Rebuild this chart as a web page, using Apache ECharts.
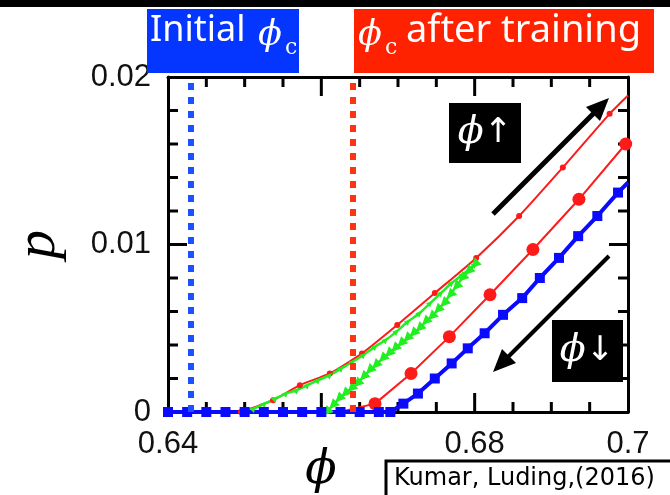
<!DOCTYPE html>
<html>
<head>
<meta charset="utf-8">
<script src="https://cdn.jsdelivr.net/npm/echarts@6/dist/echarts.min.js"></script>
<style>
html,body{margin:0;padding:0;background:#fff}
#main{width:670px;height:495px}
</style>
</head>
<body>
<div id="main"></div>
<script>
// phi ^ : red line, small dots
var redUpPhi = [0.6495, 0.6537, 0.6572, 0.6611, 0.6653, 0.6699, 0.6748, 0.6802, 0.6858, 0.6915, 0.6976, 0.7];
var redUpP   = [0, 0.0007, 0.0016, 0.0023, 0.0035, 0.0052, 0.0071, 0.0092, 0.0117, 0.0146, 0.0178, 0.0189];
// red big circles
var redDotPhi = [0.6624, 0.6670, 0.6717, 0.6767, 0.6820, 0.6876, 0.6936, 0.6997];
var redDotP   = [0, 0.0005, 0.0023, 0.0045, 0.0070, 0.0097, 0.0127, 0.0160];
// blue squares
var bluePhi = [0.64, 0.6425, 0.645, 0.6475, 0.65, 0.6525, 0.655, 0.6575, 0.66, 0.6625, 0.665, 0.6675, 0.669,
               0.6707, 0.6726, 0.6748, 0.677, 0.6791, 0.6813, 0.6837, 0.6862, 0.6885, 0.691, 0.6935, 0.696, 0.6987, 0.7];
var blueP   = [0, 0, 0, 0, 0, 0, 0, 0, 0, 0, 0, 0, 0,
               0.0005, 0.0011, 0.0020, 0.0029, 0.0038, 0.0047, 0.0058, 0.0068, 0.0080, 0.0092, 0.0105, 0.0117, 0.0131, 0.0137];
// green loop, going up
var greenUpPhi = [0.6498, 0.6512, 0.6526, 0.6540, 0.6554, 0.6568, 0.6582, 0.6596, 0.6611, 0.6626, 0.6641,
                  0.6655, 0.6670, 0.6684, 0.6698, 0.6713, 0.6728, 0.6742, 0.6756, 0.6770, 0.6784, 0.6800];
var greenUpP   = [0, 0.0002, 0.0005, 0.0008, 0.0011, 0.0013, 0.0016, 0.0019, 0.0022, 0.0026, 0.0030,
                  0.0034, 0.0039, 0.0043, 0.0048, 0.0054, 0.0059, 0.0065, 0.0071, 0.0077, 0.0082, 0.0088];
// green loop, coming down
var greenDownPhi = [0.6800, 0.6792, 0.6784, 0.6776, 0.6768, 0.6760, 0.6752, 0.6744, 0.6736, 0.6728, 0.6720, 0.6712, 0.6704,
                    0.6696, 0.6688, 0.6680, 0.6671, 0.6663, 0.6655, 0.6647, 0.6639, 0.6631, 0.6623, 0.6615, 0.6607];
var greenDownP   = [0.0088, 0.0084, 0.0080, 0.0075, 0.0070, 0.0065, 0.0061, 0.0057, 0.0054, 0.0050, 0.0047, 0.0044, 0.0041,
                    0.0038, 0.0035, 0.0032, 0.0028, 0.0025, 0.0021, 0.0017, 0.0014, 0.0011, 0.0008, 0.0004, 0];
// phi_c lines
var phiInitial = 0.643;
var phiTrained = 0.6641;
var xLabelValues = [0.64, 0.68, 0.7];
var yLabelValues = [0, 0.01, 0.02];

function pairs(xs, ys){
	var out = [];
	for (var i = 0; i < xs.length; i++) out.push([xs[i], ys[i]]);
	return out;
}
function shown(list, v){
	for (var i = 0; i < list.length; i++) if (Math.abs(list[i] - v) < 1e-6) return true;
	return false;
}

var redUp = pairs(redUpPhi, redUpP);
redUp[redUp.length - 1] = {value: redUp[redUp.length - 1], symbol: 'none'};
var redDot = pairs(redDotPhi, redDotP);
redDot[0] = {value: redDot[0], symbol: 'none'};
var blue = pairs(bluePhi, blueP);
blue[blue.length - 1] = {value: blue[blue.length - 1], symbol: 'none'};

function makeAxis(opts){
	var ax = {
		type: 'value',
		axisLine: {show: true, onZero: false, lineStyle: {color: '#000', width: 3}},
		axisTick: {show: false},
		minorTick: {show: false},
		splitLine: {show: false},
		minorSplitLine: {show: false}
	};
	for (var k in opts) ax[k] = opts[k];
	return ax;
}
var tickLabel = function(list){
	return {margin: 17, fontFamily: 'Liberation Sans', fontSize: 31, color: '#111',
		formatter: function(v){ return shown(list, v) ? String(+v.toFixed(2)) : ''; }};
};
var phiFont = {fontFamily: 'DejaVu Serif', fontStyle: 'italic', fontSize: 35, fill: '#fff'};
var subFont = {fontFamily: 'DejaVu Serif', fontSize: 22, fill: '#fff'};

var graphics = [
	{type: 'rect', z: 100, shape: {x: 0, y: 0, width: 670, height: 7}, style: {fill: '#000'}},
	{type: 'rect', z: 100, shape: {x: 147, y: 9, width: 152, height: 64}, style: {fill: '#0536ff'}},
	{type: 'text', z: 101, style: {x: 150, y: 31, text: 'Initial', fontFamily: 'Noto Sans', fontSize: 36, fill: '#fff', verticalAlign: 'middle'}},
	{type: 'text', z: 101, style: Object.assign({x: 258, y: 18, text: 'ϕ'}, phiFont)},
	{type: 'text', z: 101, style: Object.assign({x: 285, y: 37, text: 'c'}, subFont)},
	{type: 'rect', z: 100, shape: {x: 354, y: 9, width: 300, height: 64}, style: {fill: '#ff2200'}},
	{type: 'text', z: 101, style: Object.assign({x: 358, y: 18, text: 'ϕ'}, phiFont)},
	{type: 'text', z: 101, style: Object.assign({x: 385, y: 37, text: 'c'}, subFont)},
	{type: 'text', z: 101, style: {x: 406, y: 31, text: 'after training', fontFamily: 'Noto Sans', fontSize: 38, fill: '#fff', verticalAlign: 'middle'}},
	{type: 'rect', z: 100, shape: {x: 449, y: 103, width: 72, height: 60}, style: {fill: '#000'}},
	{type: 'text', z: 101, style: {x: 485, y: 133, align: 'center', verticalAlign: 'middle',
		text: '{f|ϕ}{a|↑}',
		rich: {f: {fontFamily: 'DejaVu Serif', fontStyle: 'italic', fontSize: 38, fill: '#fff'},
			a: {fontFamily: 'DejaVu Sans', fontSize: 34, fill: '#fff'}}}},
	{type: 'rect', z: 100, shape: {x: 552, y: 320, width: 71, height: 62}, style: {fill: '#000'}},
	{type: 'text', z: 101, style: {x: 587, y: 351, align: 'center', verticalAlign: 'middle',
		text: '{f|ϕ}{a|↓}',
		rich: {f: {fontFamily: 'DejaVu Serif', fontStyle: 'italic', fontSize: 38, fill: '#fff'},
			a: {fontFamily: 'DejaVu Sans', fontSize: 34, fill: '#fff'}}}},
	{type: 'line', z: 100, shape: {x1: 493, y1: 214, x2: 597, y2: 110}, style: {stroke: '#000', lineWidth: 5}},
	{type: 'polygon', z: 100, shape: {points: [[609, 98], [600, 121], [586, 107]]}, style: {fill: '#000'}},
	{type: 'line', z: 100, shape: {x1: 609, y1: 256, x2: 505, y2: 360}, style: {stroke: '#000', lineWidth: 4}},
	{type: 'polygon', z: 100, shape: {points: [[493, 372], [516, 363], [502, 349]]}, style: {fill: '#000'}},
	{type: 'rect', z: 100, shape: {x: 386, y: 461, width: 300, height: 50}, style: {fill: '#fff', stroke: '#000', lineWidth: 3}},
	{type: 'text', z: 101, style: {x: 394, y: 479, align: 'left', verticalAlign: 'middle',
		text: 'Kumar, Luding,(2016)', fontFamily: 'DejaVu Sans', fontSize: 24, fill: '#000'}}
];

var myChart = echarts.init(document.getElementById('main'));
var option = {
	animation: false,
	grid: {left: 168, right: 42, top: 77, bottom: 83, outerBoundsMode: 'none', containLabel: false},
	xAxis: [
		makeAxis({min: 0.64, max: 0.7, interval: 0.02, position: 'bottom',
			name: 'ϕ', nameLocation: 'middle', nameGap: 36, nameMoveOverlap: false,
			nameTextStyle: {fontFamily: 'DejaVu Serif', fontStyle: 'italic', fontSize: 46, color: '#000', padding: [0, 154, 0, 0]},
			axisLabel: tickLabel(xLabelValues)}),
		makeAxis({min: 0.64, max: 0.7, interval: 0.02, position: 'top', axisLabel: {show: false}})
	],
	yAxis: [
		makeAxis({min: 0, max: 0.02, interval: 0.01, position: 'left',
			name: 'p', nameLocation: 'middle', nameGap: 100, nameRotate: 90, nameMoveOverlap: false,
			nameTextStyle: {fontFamily: 'Liberation Serif', fontStyle: 'italic', fontSize: 58, color: '#000'},
			axisLabel: tickLabel(yLabelValues)}),
		makeAxis({min: 0, max: 0.02, interval: 0.01, position: 'right', axisLabel: {show: false}})
	],
	series: [
		{type: 'line', data: redUp, symbol: 'circle', symbolSize: 6, smooth: 0.2,
			lineStyle: {color: '#ff1a1a', width: 2}, itemStyle: {color: '#ff1a1a'}},
		{type: 'line', data: redDot, symbol: 'circle', symbolSize: 13,
			lineStyle: {color: '#ff1a1a', width: 2}, itemStyle: {color: '#ff1a1a'}},
		{type: 'line', data: pairs(greenUpPhi, greenUpP), symbol: 'triangle', symbolSize: 6, symbolRotate: -45, smooth: 0.2,
			lineStyle: {color: '#22ee22', width: 2.5}, itemStyle: {color: '#22ee22'}},
		{type: 'line', data: pairs(greenDownPhi, greenDownP), symbol: 'triangle', symbolSize: 10, symbolRotate: 135,
			lineStyle: {color: '#22ee22', width: 2.5}, itemStyle: {color: '#22ee22'}},
		{type: 'line', data: blue, symbol: 'rect', symbolSize: 10, clip: false,
			lineStyle: {color: '#0a0aff', width: 4}, itemStyle: {color: '#0a0aff'}},
		{type: 'line', data: [], z: 10,
			markLine: {
				silent: true, animation: false, precision: 5, symbol: ['none', 'none'], label: {show: false},
				lineStyle: {width: 6, type: [7, 7], cap: 'butt'},
				data: [
					{xAxis: phiInitial, lineStyle: {color: '#1a52ff'}},
					{xAxis: phiTrained, lineStyle: {color: '#ff3311'}}
				]
			}}
	],
	graphic: graphics
};
myChart.setOption(option);

// inward ticks on all four sides as filled bars, placed through the axes' own scales
var finder = {xAxisIndex: 0, yAxisIndex: 0};
var ticks = [];
function bar(x, y, w, h){
	ticks.push({type: 'rect', z: 3, shape: {x: x, y: y, width: w, height: h}, style: {fill: '#000'}});
}
var corner0 = myChart.convertToPixel(finder, [0.64, 0]);
var corner1 = myChart.convertToPixel(finder, [0.7, 0.02]);
for (var i = 1; i < 12; i++){
	var px = myChart.convertToPixel(finder, [0.64 + i * 0.005, 0])[0];
	var len = (i % 4 === 0) ? 19 : 10;
	bar(px - 1.5, corner0[1] - len, 3, len);
	bar(px - 1.5, corner1[1], 3, len);
}
for (var j = 1; j < 10; j++){
	var py = myChart.convertToPixel(finder, [0.64, j * 0.002])[1];
	var ln = (j % 5 === 0) ? 19 : 10;
	bar(corner0[0], py - 1.5, ln, 3);
	bar(corner1[0] - ln, py - 1.5, ln, 3);
}
myChart.setOption({graphic: graphics.concat(ticks)});
</script>
</body>
</html>
